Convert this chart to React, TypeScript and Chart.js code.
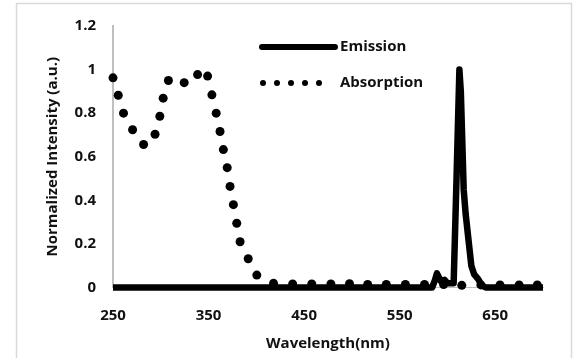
import React, { useEffect, useRef } from "react";
import { Chart, registerables } from "chart.js";

Chart.register(...registerables);

// ---- Data ----
const emissionX = [250, 584, 587, 589, 593, 597, 600, 603, 606.5, 609.5, 612.5, 614, 617, 619, 622, 625, 628, 632, 636, 640, 700];
const emissionY = [0, 0, 0.035, 0.065, 0.03, 0.035, 0.02, 0.02, 0.02, 0.5, 1.0, 0.9, 0.45, 0.34, 0.22, 0.1, 0.06, 0.04, 0.01, 0, 0];

const absorptionX = [250, 255.5, 261, 270.5, 282, 294, 299, 302.5, 308, 324.5, 338.5, 349, 353.5, 358, 362, 365.5, 369.5, 372.5, 376, 379.5, 383, 391.5, 400.5, 418, 438, 458, 478, 497.5, 516.5, 536, 556, 576, 596, 615, 635, 655, 675, 694];
const absorptionY = [0.962, 0.882, 0.8, 0.724, 0.656, 0.703, 0.786, 0.869, 0.95, 0.94, 0.977, 0.97, 0.884, 0.8, 0.716, 0.633, 0.55, 0.464, 0.38, 0.295, 0.21, 0.132, 0.057, 0.019, 0.016, 0.016, 0.016, 0.017, 0.014, 0.014, 0.014, 0.014, 0.014, 0.01, 0.012, 0.012, 0.012, 0.012];

const xTickValues = [250, 350, 450, 550, 650];
const yTickValues = [0, 0.2, 0.4, 0.6, 0.8, 1, 1.2];
const yTickLabels = ["0", "0.2", "0.4", "0.6", "0.8", "1", "1.2"];

const seriesNames = ["Emission", "Absorption"];
const xTitle = "Wavelength(nm)";
const yTitle = "Normalized Intensity (a.u.)";

const FONT = "'Open Sans', 'DejaVu Sans', sans-serif";
const TEXT = "#111111";

const framePlugin = {
  id: "frame",
  beforeDraw(chart: any) {
    const ctx = chart.ctx;
    ctx.save();
    ctx.fillStyle = "#ffffff";
    ctx.fillRect(0, 0, chart.width, chart.height);
    ctx.strokeStyle = "#d9d9d9";
    ctx.lineWidth = 1.5;
    ctx.strokeRect(16.5, 3.5, 555, 420);
    ctx.restore();
  },
};

const legendPlugin = {
  id: "insideLegend",
  afterDraw(chart: any) {
    const ctx = chart.ctx;
    const a = chart.chartArea;
    const x0 = a.left + 149;
    const x1 = a.left + 222;
    const tx = a.left + 227;
    const y1 = a.top + 21;
    const y2 = a.top + 57;
    ctx.save();
    ctx.strokeStyle = "#000";
    ctx.lineWidth = 6;
    ctx.lineCap = "round";
    ctx.beginPath();
    ctx.moveTo(x0, y1);
    ctx.lineTo(x1, y1);
    ctx.stroke();
    ctx.fillStyle = "#000";
    for (let i = 0; i < 5; i++) {
      ctx.beginPath();
      ctx.arc(x0 + 1 + i * 14, y2, 3, 0, Math.PI * 2);
      ctx.fill();
    }
    ctx.fillStyle = TEXT;
    ctx.font = `bold 15px ${FONT}`;
    ctx.textAlign = "left";
    ctx.textBaseline = "middle";
    ctx.fillText(chart.data.datasets[0].label, tx, y1);
    ctx.fillText(chart.data.datasets[1].label, tx, y2);
    ctx.restore();
  },
};

export default function App() {
  const ref = useRef<HTMLCanvasElement | null>(null);

  useEffect(() => {
    if (!ref.current) return;
    const chart = new Chart(ref.current, {
      type: "scatter",
      data: {
        datasets: [
          {
            label: seriesNames[0],
            data: emissionX.map((x, i) => ({ x, y: emissionY[i] })),
            showLine: true,
            borderColor: "#000",
            backgroundColor: "#000",
            borderWidth: 6.5,
            pointRadius: 0,
            borderJoinStyle: "round",
            borderCapStyle: "butt",
            tension: 0,
            clip: false,
            order: 2,
          },
          {
            label: seriesNames[1],
            data: absorptionX.map((x, i) => ({ x, y: absorptionY[i] })),
            showLine: false,
            pointRadius: 4.5,
            pointBackgroundColor: "#000",
            pointBorderWidth: 0,
            borderColor: "#000",
            backgroundColor: "#000",
            clip: false,
            order: 1,
          },
        ],
      },
      options: {
        responsive: false,
        animation: false,
        devicePixelRatio: 1,
        layout: { padding: { left: 0, right: 33, top: 22, bottom: 0 } },
        plugins: {
          legend: { display: false },
          tooltip: { enabled: false },
        },
        scales: {
          x: {
            type: "linear",
            min: 250,
            max: 700,
            afterBuildTicks: (s: any) => {
              s.ticks = xTickValues.map((v) => ({ value: v }));
            },
            afterFit: (s: any) => {
              s.height = 70.5;
            },
            grid: { display: false, drawTicks: false },
            border: { display: true, color: "#bfbfbf", width: 1 },
            ticks: {
              padding: 19,
              color: TEXT,
              font: { family: FONT, size: 15, weight: "bold" },
              maxRotation: 0,
              autoSkip: false,
            },
            title: {
              display: true,
              text: xTitle,
              color: TEXT,
              font: { family: FONT, size: 15, weight: "bold" },
              padding: { top: 0, bottom: 5 },
            },
          },
          y: {
            type: "linear",
            min: 0,
            max: 1.2,
            afterBuildTicks: (s: any) => {
              s.ticks = yTickValues.map((v) => ({ value: v }));
            },
            afterFit: (s: any) => {
              s.width = 113;
            },
            grid: { display: false, drawTicks: false },
            border: { display: true, color: "#bfbfbf", width: 2 },
            ticks: {
              padding: 17,
              color: TEXT,
              font: { family: FONT, size: 15, weight: "bold" },
              callback: (v: any) => {
                const i = yTickValues.findIndex((t) => Math.abs(t - Number(v)) < 1e-9);
                return i >= 0 ? yTickLabels[i] : "";
              },
            },
            title: {
              display: true,
              text: yTitle,
              color: TEXT,
              font: { family: FONT, size: 15, weight: "bold" },
              padding: { top: 44, bottom: 0 },
            },
          },
        },
      },
      plugins: [framePlugin, legendPlugin],
    });
    return () => chart.destroy();
  }, []);

  return (
    <div style={{ position: "absolute", left: 0, top: 0, width: 576, height: 358 }}>
      <canvas ref={ref} width={576} height={358} />
    </div>
  );
}
